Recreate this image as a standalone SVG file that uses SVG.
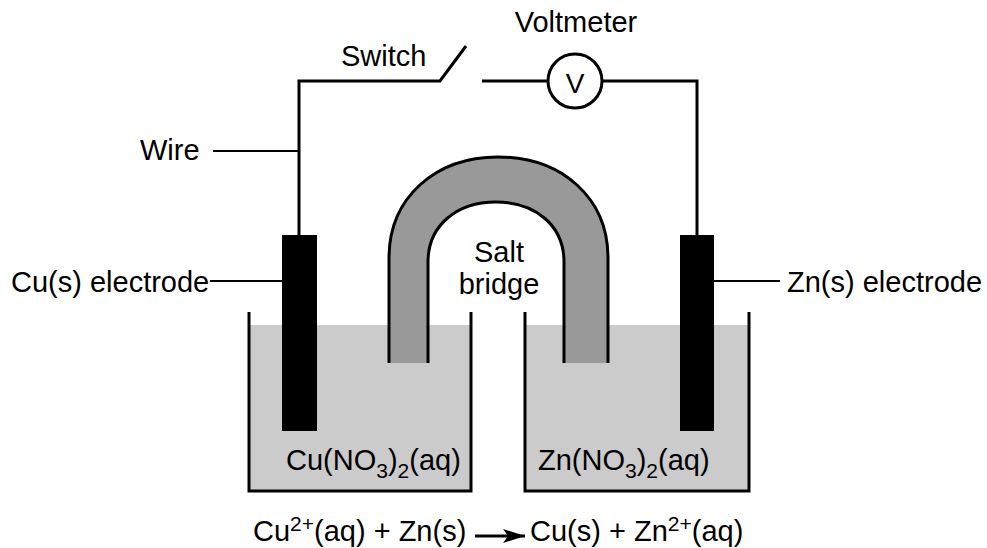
<svg xmlns="http://www.w3.org/2000/svg" width="987" height="548" viewBox="0 0 987 548">
<style>
text{font-family:"Liberation Sans",Arial,sans-serif;font-size:29px;fill:#000}
.sub{font-size:21px}
.w{fill:none;stroke:#000;stroke-width:2}
.t{fill:none;stroke:#000;stroke-width:3}
.liq{fill:#cbcbcb}
.el{fill:#000}
</style>
<defs><marker id="arr" markerUnits="userSpaceOnUse" markerWidth="24" markerHeight="16" refX="22" refY="8" orient="auto"><path d="M0 1L22 8L0 15L5 8Z" fill="#000"/></marker></defs>
<rect width="987" height="548" fill="#fff"/>
<g id="left-beaker"><rect class="liq" x="249" y="325" width="222" height="165"/><path class="t" d="M249 312V491H471V312"/><text x="286" y="470">Cu(NO<tspan class="sub" dy="8">3</tspan><tspan dy="-8">)</tspan><tspan class="sub" dy="8">2</tspan><tspan dy="-8">(aq)</tspan></text></g>
<g id="right-beaker"><rect class="liq" x="525" y="325" width="224" height="165"/><path class="t" d="M525 312V491H749V312"/><text x="538" y="470">Zn(NO<tspan class="sub" dy="8">3</tspan><tspan dy="-8">)</tspan><tspan class="sub" dy="8">2</tspan><tspan dy="-8">(aq)</tspan></text></g>
<g id="salt-bridge"><path d="M389 363V258C389 198 435 157 498 157C562 157 608 198 608 258V363H564V262C564 226 536 202 496 202C456 202 428 226 428 262V363Z" fill="#999"/><path class="t" d="M389 363V258C389 198 435 157 498 157C562 157 608 198 608 258V363M564 363V262C564 226 536 202 496 202C456 202 428 226 428 262V363"/><text x="499" y="262" text-anchor="middle">Salt</text><text x="499" y="294" text-anchor="middle">bridge</text></g>
<g id="cu-electrode"><rect class="el" x="282" y="235" width="35" height="196"/><text x="11" y="292">Cu(s) electrode</text></g>
<g id="zn-electrode"><rect class="el" x="680" y="235" width="34" height="196"/><text x="787" y="292">Zn(s) electrode</text></g>
<g id="voltmeter"><circle cx="575" cy="81" r="27" fill="#fff" stroke="#000" stroke-width="3"/><text x="575" y="93" text-anchor="middle" style="font-size:28px">V</text><text x="576" y="32" text-anchor="middle">Voltmeter</text></g>
<g id="switch"><text x="341" y="66">Switch</text></g>
<g id="wire-label"><text x="140" y="160">Wire</text></g>
<g id="connectors">
<path class="t" d="M299 235V81H440L466 46"/>
<path class="t" d="M482 81H548M602 81H697V235"/>
<path class="w" d="M213 151H299M210 281H282M714 281H780"/>
<path class="w" d="M475 536H525" style="stroke-width:3" marker-end="url(#arr)"/>
</g>
<g id="equation"><text x="253" y="541">Cu<tspan class="sub" dy="-10">2+</tspan><tspan dy="10">(aq) + Zn(s)</tspan></text><text x="530" y="541">Cu(s) + Zn<tspan class="sub" dy="-10">2+</tspan><tspan dy="10">(aq)</tspan></text></g>
</svg>
